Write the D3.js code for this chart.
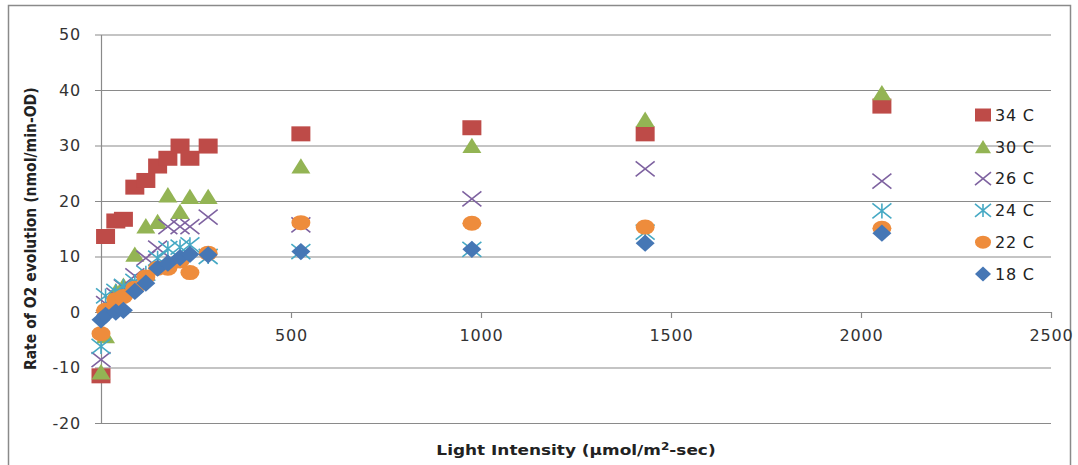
<!DOCTYPE html>
<html>
<head>
<meta charset="utf-8">
<script src="https://cdn.jsdelivr.net/npm/d3@7"></script>
<style>
  body { margin: 0; background: #fff; }
  text { font-family: "DejaVu Sans", sans-serif; }
</style>
</head>
<body>
<div id="chart"></div>
<script>
const WIDTH = 1078
const HEIGHT = 465
const MARGIN = { LEFT: 101, RIGHT: 27, TOP: 34.5, BOTTOM: 42 }

// Light intensity (shared by all series)
const light = [0, 12, 39, 59, 89, 118, 149, 176, 208, 234, 282, 526, 976, 1432, 2055]

const seriesNames = ["34 C", "30 C", "26 C", "24 C", "22 C", "18 C"]
const t34 = [-11.5, 13.6, 16.4, 16.7, 22.5, 23.7, 26.3, 27.7, 29.9, 27.7, 29.9, 32.1, 33.2, 32.1, 37.1]
const t30 = [-10.8, -4.3, 3.8, 4.8, 10.4, 15.5, 16.3, 21.1, 18.1, 20.8, 20.8, 26.3, 30.0, 34.7, 39.5]
const t26 = [-8.6, 1.5, 3.0, 4.5, 6.5, 9.7, 11.5, 15.4, 15.4, 15.4, 17.1, 15.7, 20.4, 25.8, 23.6]
const t24 = [-6.2, 2.9, 3.7, 4.6, 5.5, 7.0, 9.7, 11.4, 11.7, 12.1, 10.0, 10.9, 11.3, 14.4, 18.2]
const t22 = [-3.9, 0.3, 2.2, 2.8, 4.3, 6.3, 7.9, 7.9, 9.2, 7.1, 10.6, 16.1, 16.0, 15.3, 15.1]
const t18 = [-1.4, -0.6, 0.0, 0.3, 3.7, 5.2, 7.9, 8.8, 9.8, 10.4, 10.3, 10.9, 11.3, 12.4, 14.2]
const seriesValues = [t34, t30, t26, t24, t22, t18]
const seriesColors = ["#BE4B48", "#93B454", "#7E62A0", "#46A9C4", "#EE8C3C", "#4677B5"]
const seriesShapes = ["square", "triangle", "x", "star", "circle", "diamond"]

const xTicks = [0, 500, 1000, 1500, 2000, 2500]
const yTicks = [-20, -10, 0, 10, 20, 30, 40, 50]

const svg = d3.select("#chart").append("svg")
  .attr("width", WIDTH)
  .attr("height", HEIGHT)

// outer chart border
svg.append("rect")
  .attr("x", 8.5).attr("y", 5.5)
  .attr("width", 1062).attr("height", 480)
  .attr("fill", "none")
  .attr("stroke", "#8a8a8a")
  .attr("stroke-width", 1.5)

const x = d3.scaleLinear()
  .domain([0, 2500])
  .range([MARGIN.LEFT, WIDTH - MARGIN.RIGHT])
const y = d3.scaleLinear()
  .domain([-20, 50])
  .range([HEIGHT - MARGIN.BOTTOM, MARGIN.TOP])

const plain = d => String(d)

// Y axis + gridlines
const yAxis = svg.append("g")
  .attr("transform", `translate(${MARGIN.LEFT}, 0)`)
  .call(d3.axisLeft(y).tickValues(yTicks).tickFormat(plain)
    .tickSizeInner(-(x.range()[1] - x.range()[0]))
    .tickSizeOuter(0)
    .tickPadding(20))
yAxis.selectAll(".tick line").attr("x1", -6)
yAxis.selectAll("line, path").attr("stroke", "#8a8a8a").attr("stroke-width", 1.2)
yAxis.selectAll("text")
  .attr("font-size", "16px")
  .attr("letter-spacing", "0.8px")
  .attr("fill", "#333")
  .attr("font-family", "DejaVu Sans")

// X axis at y = 0
const xAxis = svg.append("g")
  .attr("transform", `translate(0, ${y(0)})`)
  .call(d3.axisBottom(x).tickValues(xTicks).tickFormat(plain)
    .tickSize(6).tickSizeOuter(0).tickPadding(12))
xAxis.selectAll("line, path").attr("stroke", "#8a8a8a").attr("stroke-width", 1.2)
xAxis.selectAll("text")
  .attr("font-size", "16px")
  .attr("letter-spacing", "0.8px")
  .attr("fill", "#333")
  .attr("font-family", "DejaVu Sans")

// marker shapes, w x h box
function shapePath(shape, w, h) {
  const a = w / 2, b = h / 2
  switch (shape) {
    case "square": return `M${-a},${-b}H${a}V${b}H${-a}Z`
    case "triangle": return `M0,${-b * 1.05}L${a},${b}H${-a}Z`
    case "diamond": return `M0,${-b * 1.15}L${a},0L0,${b * 1.15}L${-a},0Z`
    case "x": return `M${-a},${-b}L${a},${b}M${-a},${b}L${a},${-b}`
    case "star": return `M${-a},${-b}L${a},${b}M${-a},${b}L${a},${-b}M0,${-b}V${b}`
  }
}

function drawMarker(g, shape, color, w, h) {
  if (shape === "circle") {
    g.append("ellipse").attr("rx", w / 2).attr("ry", h / 2).attr("fill", color)
  } else if (shape === "x" || shape === "star") {
    g.append("path").attr("d", shapePath(shape, w, h))
      .attr("fill", "none").attr("stroke", color).attr("stroke-width", 1.6)
  } else {
    g.append("path").attr("d", shapePath(shape, w, h)).attr("fill", color)
  }
}

// points, drawn in series order so later series sit on top
seriesNames.forEach((name, i) => {
  const pts = light.map((lx, j) => ({ lx, v: seriesValues[i][j] }))
  const grp = svg.append("g").attr("class", "series")
  pts.forEach(p => {
    const m = grp.append("g").attr("transform", `translate(${x(p.lx)}, ${y(p.v)})`)
    drawMarker(m, seriesShapes[i], seriesColors[i], 19, 15)
  })
})

// Legend
const legend = svg.append("g").attr("transform", "translate(983, 115)")
seriesNames.forEach((name, i) => {
  const row = legend.append("g").attr("transform", `translate(0, ${i * 31.8})`)
  drawMarker(row, seriesShapes[i], seriesColors[i], 16, 13)
  row.append("text")
    .attr("x", 12)
    .attr("y", 0)
    .attr("dy", "0.36em")
    .attr("font-size", "16px")
    .attr("letter-spacing", "0.8px")
    .attr("fill", "#222")
    .text(name)
})

// Axis titles (horizontally stretched like the source)
svg.append("text")
  .attr("transform", `translate(${(x.range()[0] + x.range()[1]) / 2}, 455) scale(1.21, 1)`)
  .attr("text-anchor", "middle")
  .attr("font-size", "14px")
  .attr("font-weight", "bold")
  .attr("fill", "#222")
  .html("Light Intensity (&#181;mol/m<tspan dy='-5' font-size='10px'>2</tspan><tspan dy='5'>-sec)</tspan>")

svg.append("text")
  .attr("transform", `translate(36, ${(y.range()[0] + y.range()[1]) / 2}) rotate(-90) scale(1, 1.15)`)
  .attr("text-anchor", "middle")
  .attr("font-size", "14px")
  .attr("font-weight", "bold")
  .attr("fill", "#222")
  .text("Rate of O2 evolution (nmol/min-OD)")
</script>
</body>
</html>
